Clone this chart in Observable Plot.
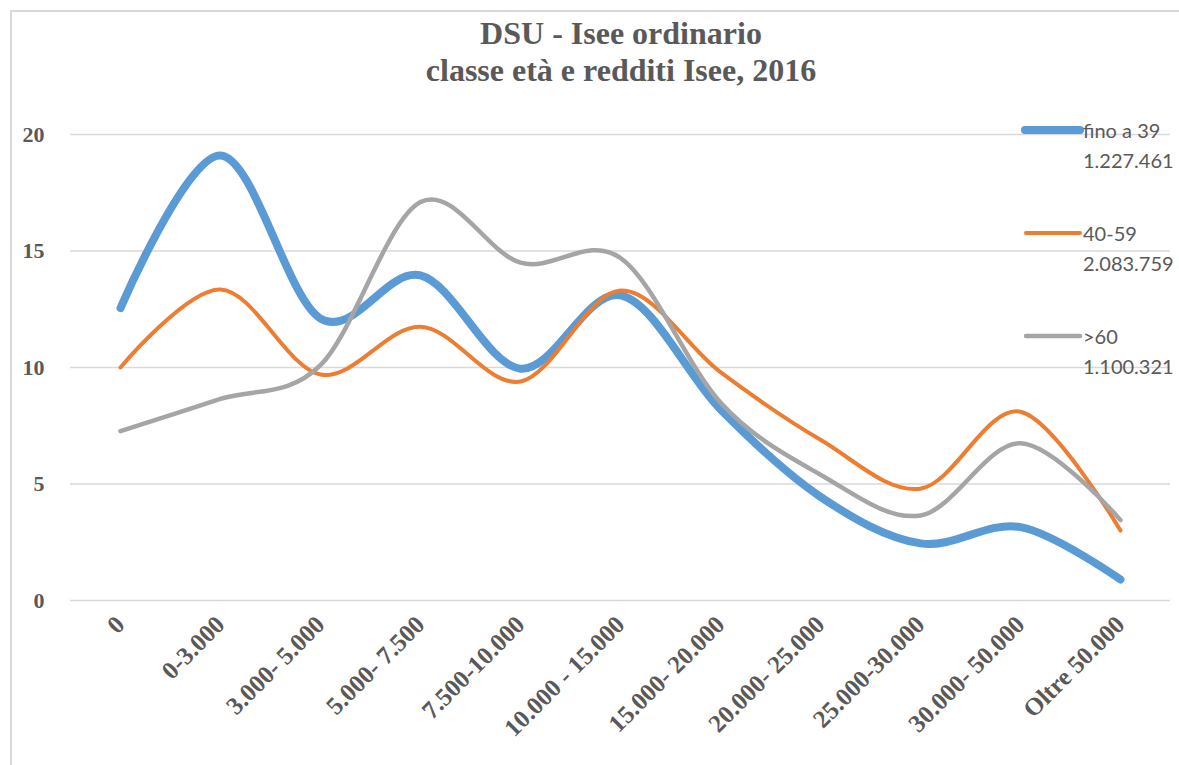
<!DOCTYPE html>
<html><head><meta charset="utf-8">
<script src="https://cdn.jsdelivr.net/npm/d3@7"></script>
<script src="https://cdn.jsdelivr.net/npm/@observablehq/plot@0.6"></script>
<style>
html,body{margin:0;padding:0;background:#fff;overflow:hidden;}
#wrap{position:relative;width:1179px;height:765px;overflow:hidden;}
#border{position:absolute;left:10px;top:10px;width:1400px;height:1000px;border:2px solid #d9d9d9;box-sizing:border-box;}
#title{position:absolute;left:0;width:1242px;top:15px;text-align:center;font-family:"Liberation Serif",serif;font-weight:bold;font-size:32px;line-height:37px;color:#595959;}
#chart{position:absolute;left:0;top:0;}
.leg{position:absolute;left:1020px;font-family:Lato,"Open Sans",sans-serif;font-size:20px;color:#595959;line-height:30px;}
.leg svg{position:absolute;left:0;top:0;}
.leg .t{position:absolute;left:63px;top:0;white-space:nowrap;}
</style></head>
<body>
<div id="wrap">
  <div id="border"></div>
  <div id="chart"></div>
  <div id="title">DSU - Isee ordinario<br>classe età e redditi Isee, 2016</div>
  <div id="legend"></div>
</div>
<script>
const categories = ["0","0-3.000","3.000- 5.000","5.000- 7.500","7.500-10.000","10.000 - 15.000","15.000- 20.000","20.000- 25.000","25.000-30.000","30.000- 50.000","Oltre 50.000"];
const fino39 = [12.55, 19.1, 12.1, 13.95, 9.95, 13.1, 8.2, 4.45, 2.45, 3.15, 0.9];
const eta4059 = [10.0, 13.35, 9.7, 11.75, 9.4, 13.3, 9.8, 6.9, 4.8, 8.1, 3.0];
const over60 = [7.27, 8.65, 10.1, 17.1, 14.5, 14.7, 8.5, 5.4, 3.65, 6.75, 3.45];
const seriesNames = ["fino a 39", "40-59", ">60"];
const seriesTotals = ["1.227.461", "2.083.759", "1.100.321"];
const yTicks = [0, 5, 10, 15, 20];

const seriesValues = [fino39, eta4059, over60];
const colors = ["#5B9BD5", "#ED7D31", "#A5A5A5"];
const widths = [8, 4, 4.5];

const rows = seriesValues.flatMap((vals, si) => vals.map((v, i) => ({cat: categories[i], v, s: seriesNames[si]})));

const chart = Plot.plot({
  width: 1179, height: 765,
  marginLeft: 70, marginRight: 9, marginTop: 134, marginBottom: 165,
  x: {type: "point", domain: categories, padding: 0.5, label: null},
  y: {domain: [0, 20], label: null},
  style: {background: "transparent", overflow: "visible"},
  marks: [
    Plot.ruleY(yTicks, {stroke: "#d9d9d9", strokeWidth: 1.4}),
    Plot.axisY(yTicks, {tickSize: 0, tickPadding: 26, fontSize: 22, fontFamily: "Liberation Serif", fontWeight: "bold", fill: "#595959", label: null}),
    Plot.axisX({tickSize: 0, tickPadding: 20, tickRotate: -45, fontSize: 25, fontFamily: "Liberation Serif", fontWeight: "bold", fill: "#595959", label: null}),
    ...seriesNames.map((name, si) => Plot.line(rows.filter(d => d.s === name), {
      x: "cat", y: "v", stroke: colors[si], strokeWidth: widths[si], curve: "cardinal", strokeLinecap: "round", strokeLinejoin: "round"
    }))
  ]
});
document.getElementById("chart").appendChild(chart);

const legend = document.getElementById("legend");
seriesNames.forEach((name, si) => {
  const top = 130 + 103 * si - 15;
  const d = document.createElement("div");
  d.className = "leg";
  d.style.top = top + "px";
  d.innerHTML = `<svg width="64" height="30"><line x1="${si===0?5:6}" x2="60" y1="15" y2="15" stroke="${colors[si]}" stroke-width="${widths[si]}" stroke-linecap="round"/></svg><div class="t">${name}<br>${seriesTotals[si]}</div>`;
  legend.appendChild(d);
});
</script>
</body></html>
